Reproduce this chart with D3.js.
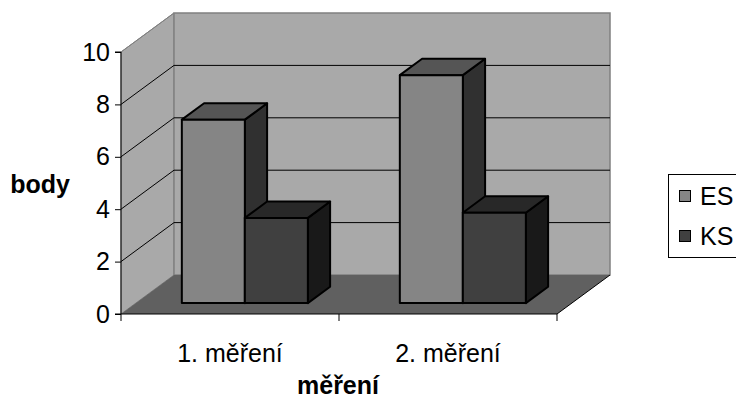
<!DOCTYPE html>
<html><head><meta charset="utf-8">
<script src="https://cdn.jsdelivr.net/npm/d3@7"></script>
<style>html,body{margin:0;padding:0;background:#fff;overflow:hidden}</style>
</head><body><svg id="chart" width="736" height="401"></svg>
<script>
// Chart data
const categories = ["1. měření", "2. měření"];
const seriesNames = ["ES", "KS"];
const esValues = [7.0, 8.7];
const ksValues = [3.25, 3.45];
const yTicks = [0, 2, 4, 6, 8, 10];
const yTitle = "body";
const xTitle = "měření";

const seriesValues = [esValues, ksValues];
const palette = {
  ES: { front: "#858585", top: "#555555", side: "#303030" },
  KS: { front: "#404040", top: "#282828", side: "#191919" }
};

const FONT = "Arial, 'Liberation Sans', sans-serif";
const FS = 25;
const svg = d3.select("#chart");

// Front plane of the plot and the oblique depth vector
const plotLeft = 121, plotRight = 557, plotBottom = 314, plotTop = 52;
const depth = { x: 53, y: -39 };
const x = d3.scaleBand().domain(categories).range([plotLeft, plotRight]).padding(0);
const y = d3.scaleLinear().domain([0, 10]).range([plotBottom, plotTop]);
const inner = d3.scaleBand().domain(seriesNames).range([0, x.bandwidth()]).paddingInner(0).paddingOuter(0.73);
const bar0 = 0.28, bar1 = 0.70; // depth range occupied by the bars

const P = (px, py, t) => [px + depth.x * t, py + depth.y * t];
const poly = pts => "M" + pts.map(p => p.join(",")).join("L") + "Z";

const g = svg.append("g");

// Side wall, back wall, floor
g.append("path").attr("d", poly([P(plotLeft, y(0), 0), P(plotLeft, y(10), 0), P(plotLeft, y(10), 1), P(plotLeft, y(0), 1)]))
  .attr("fill", "#a9a9a9").attr("stroke", "#808080").attr("stroke-width", 1);
g.append("path").attr("d", poly([P(plotLeft, y(0), 1), P(plotLeft, y(10), 1), P(plotRight, y(10), 1), P(plotRight, y(0), 1)]))
  .attr("fill", "#a9a9a9").attr("stroke", "#808080").attr("stroke-width", 1.5);
g.append("path").attr("d", poly([P(plotLeft, y(0), 0), P(plotRight, y(0), 0), P(plotRight, y(0), 1), P(plotLeft, y(0), 1)]))
  .attr("fill", "#606060").attr("stroke", "none");
g.append("line").attr("x1", P(plotRight, y(0), 0)[0]).attr("y1", P(plotRight, y(0), 0)[1])
  .attr("x2", P(plotRight, y(0), 1)[0]).attr("y2", P(plotRight, y(0), 1)[1])
  .attr("stroke", "#000").attr("stroke-width", 1);

// Gridlines on the back wall and the side wall
const grid = yTicks.filter(v => v > 0 && v < 10);
grid.forEach(v => {
  const a = P(plotLeft, y(v), 1), b = P(plotRight, y(v), 1);
  g.append("line").attr("x1", a[0]).attr("y1", a[1]).attr("x2", b[0]).attr("y2", b[1])
    .attr("stroke", "#000").attr("stroke-width", 1);
});
yTicks.filter(v => v > 0).forEach(v => {
  const a = P(plotLeft, y(v), 0), b = P(plotLeft, y(v), 1);
  g.append("line").attr("x1", a[0]).attr("y1", a[1]).attr("x2", b[0]).attr("y2", b[1])
    .attr("stroke", v === 10 ? "#808080" : "#000").attr("stroke-width", 1);
});

// Bars: right side, top, then front face
categories.forEach((c, ci) => {
  seriesNames.forEach((s, si) => {
    const v = seriesValues[si][ci];
    const x0 = x(c) + inner(s), x1 = x0 + inner.bandwidth();
    const col = palette[s];
    const bg = g.append("g").attr("stroke", "#000").attr("stroke-width", 2).attr("stroke-linejoin", "round");
    bg.append("path").attr("fill", col.side)
      .attr("d", poly([P(x1, y(0), bar0), P(x1, y(v), bar0), P(x1, y(v), bar1), P(x1, y(0), bar1)]));
    bg.append("path").attr("fill", col.top)
      .attr("d", poly([P(x0, y(v), bar0), P(x1, y(v), bar0), P(x1, y(v), bar1), P(x0, y(v), bar1)]));
    bg.append("path").attr("fill", col.front)
      .attr("d", poly([P(x0, y(0), bar0), P(x1, y(0), bar0), P(x1, y(v), bar0), P(x0, y(v), bar0)]));
  });
});

// Value axis
const yAxis = svg.append("g").attr("transform", `translate(${plotLeft},0)`)
  .call(d3.axisLeft(y).tickValues(yTicks).tickSize(6).tickPadding(5).tickFormat(d3.format("d")));
yAxis.select(".domain").attr("stroke", "#000").attr("d", `M-6,${y(0)}H0V${y(10)}H-6`);
yAxis.selectAll(".tick line").attr("stroke", "#000");
yAxis.selectAll("text").attr("font-family", FONT).attr("font-size", FS).attr("fill", "#000");

// Category axis
const xAxis = svg.append("g");
xAxis.append("line").attr("x1", plotLeft).attr("x2", plotRight).attr("y1", plotBottom).attr("y2", plotBottom)
  .attr("stroke", "#000").attr("stroke-width", 1);
const bounds = categories.map(c => x(c)).concat([plotRight]);
bounds.forEach(bx => {
  xAxis.append("line").attr("x1", bx).attr("x2", bx).attr("y1", plotBottom).attr("y2", plotBottom + 7)
    .attr("stroke", "#000").attr("stroke-width", 1);
});
categories.forEach(c => {
  xAxis.append("text").attr("x", x(c) + x.bandwidth() / 2).attr("y", 362)
    .attr("text-anchor", "middle").attr("font-family", FONT).attr("font-size", FS).text(c);
});

// Axis titles
svg.append("text").attr("x", 338).attr("y", 394).attr("text-anchor", "middle")
  .attr("font-family", FONT).attr("font-size", FS).attr("font-weight", "bold").text(xTitle);
svg.append("text").attr("x", 40).attr("y", 193).attr("text-anchor", "middle")
  .attr("font-family", FONT).attr("font-size", FS).attr("font-weight", "bold").text(yTitle);

// Legend
const lg = svg.append("g");
lg.append("rect").attr("x", 668.5).attr("y", 174.5).attr("width", 100).attr("height", 83)
  .attr("fill", "#fff").attr("stroke", "#000").attr("stroke-width", 1);
seriesNames.forEach((s, i) => {
  const ly = 190 + i * 40;
  lg.append("rect").attr("x", 679.5).attr("y", ly + 0.5).attr("width", 11).attr("height", 11)
    .attr("fill", palette[s].front).attr("stroke", "#000").attr("stroke-width", 1);
  lg.append("text").attr("x", 700).attr("y", ly + 15).attr("font-family", FONT).attr("font-size", FS).text(s);
});
</script>
</body></html>
